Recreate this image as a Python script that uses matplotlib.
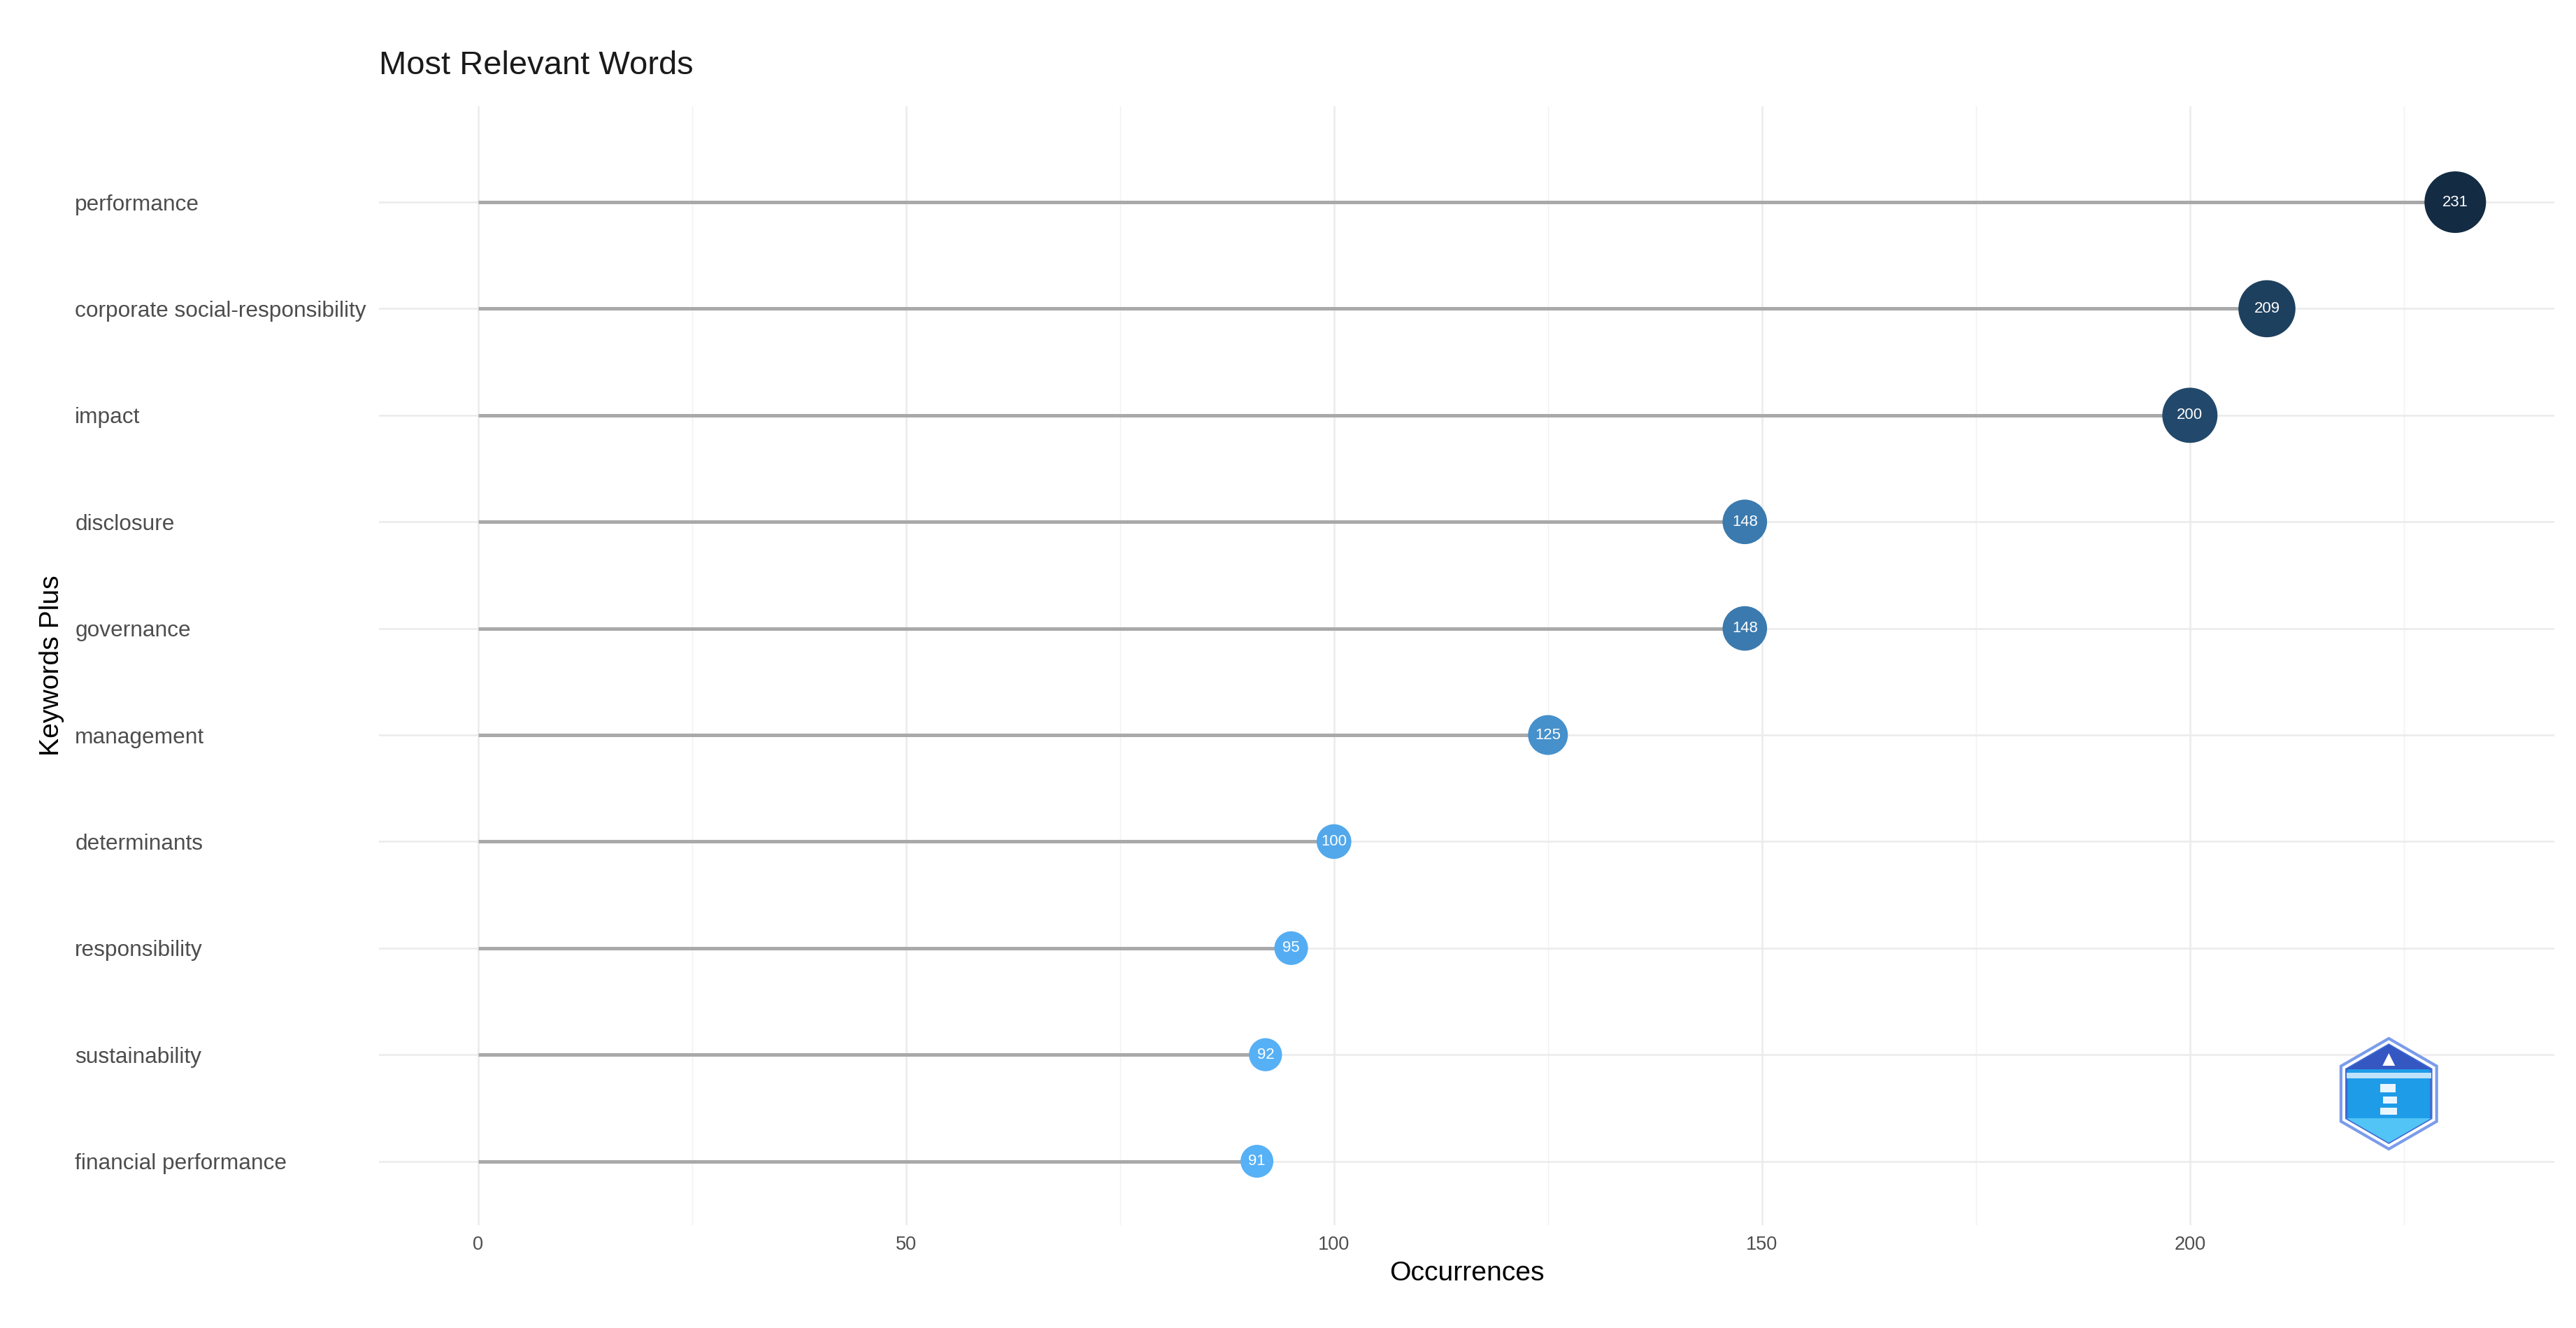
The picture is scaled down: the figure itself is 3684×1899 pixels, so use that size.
import numpy as np
import matplotlib
matplotlib.use('Agg')
import matplotlib.pyplot as plt
from matplotlib.patches import RegularPolygon, Polygon, Rectangle

plt.rcParams['font.family'] = ['Liberation Sans', 'DejaVu Sans']

# data (bottom -> top)
words = ['financial performance', 'sustainability', 'responsibility', 'determinants',
         'management', 'governance', 'disclosure', 'impact',
         'corporate social-responsibility', 'performance']
occurrences = [91, 92, 95, 100, 125, 148, 148, 200, 209, 231]
x_ticks = [0, 50, 100, 150, 200]

vals = np.array(occurrences, dtype=float)
ypos = np.arange(len(words))
t = (vals - vals.min()) / (vals.max() - vals.min())

# colour: light blue for low, navy for high (ggplot gradient)
low = np.array([0x56, 0xB1, 0xF7]) / 255
high = np.array([0x13, 0x2B, 0x43]) / 255
cols = [tuple(low + (high - low) * k) for k in t]

# bubble diameter in pixels -> points^2
dpi = 300
diam_px = 47 + t * (88 - 47)
sizes = (diam_px * 72 / dpi) ** 2

fig = plt.figure(figsize=(12.28, 6.33), dpi=dpi)
ax = fig.add_axes([0.1472, 0.0774, 0.8443, 0.8426])

# grid
for v in [25, 75, 125, 175, 225]:
    ax.axvline(v, color='#F2F2F2', lw=0.35, zorder=0)
for v in x_ticks:
    ax.axvline(v, color='#EBEBEB', lw=0.6, zorder=0)
for y in ypos:
    ax.axhline(y, color='#EBEBEB', lw=0.6, zorder=0)

# lollipops
ax.hlines(ypos, 0, vals, color='#A9A9A9', lw=1.2, zorder=1)
ax.scatter(vals, ypos, s=sizes, c=cols, linewidths=0, zorder=2)
for v, y in zip(occurrences, ypos):
    ax.text(v, y, str(v), color='white', fontsize=5.3, ha='center', va='center', zorder=3)

ax.set_xlim(-11.55, 242.55)
ax.set_ylim(-0.6, 9.9)
ax.set_xticks(x_ticks)
ax.set_xticklabels([str(v) for v in x_ticks], fontsize=6.5, color='#4D4D4D')
ax.set_yticks(ypos)
ax.set_yticklabels(words, fontsize=7.6, color='#4D4D4D', ha='left')
ax.tick_params(axis='y', length=0, pad=104.4)
ax.tick_params(axis='x', length=0, pad=3.5)
for s in ax.spines.values():
    s.set_visible(False)

ax.set_xlabel('Occurrences', fontsize=9.4, labelpad=2.5, color='black')
ax.set_ylabel('Keywords Plus', fontsize=9.4, color='black')
ax.yaxis.set_label_coords(-0.1448, 0.5)
ax.set_title('Most Relevant Words', fontsize=11.3, loc='left', pad=11, color='#1A1A1A')

# hexagon logo, bottom right
lax = fig.add_axes([0.9029, 0.129, 0.04886, 0.09479])
lax.set_xlim(-90, 90)
lax.set_ylim(-90, 90)
lax.axis('off')
lax.add_patch(RegularPolygon((0, 0), 6, radius=79, facecolor='white', edgecolor='#7B9CEB', lw=1.0))
lax.add_patch(RegularPolygon((0, 0), 6, radius=70, facecolor='#1E9CE8', edgecolor='#3F6BD3', lw=0.8))
lax.add_patch(Polygon([(0, 70), (-60.6, 35), (60.6, 35)], closed=True, facecolor='#3457C2', lw=0))
lax.add_patch(Rectangle((-60.6, 22), 121.2, 8, facecolor='#BFE3FA', lw=0))
lax.add_patch(Polygon([(0, -70), (-60.6, -35), (60.6, -35)], closed=True, facecolor='#52C4F5', lw=0))
lax.add_patch(Polygon([(0, 58), (-9, 40), (9, 40)], closed=True, facecolor='white', lw=0))
lax.add_patch(Rectangle((-12, 2), 22, 12, facecolor='#EAF6FF', lw=0))
lax.add_patch(Rectangle((-8, -14), 20, 10, facecolor='#EAF6FF', lw=0))
lax.add_patch(Rectangle((-12, -30), 24, 10, facecolor='#EAF6FF', lw=0))

fig.savefig('out.png', dpi=dpi, facecolor='white')
